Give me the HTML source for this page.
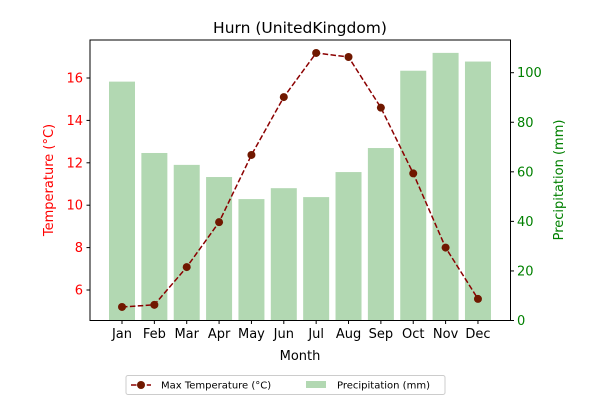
<!DOCTYPE html>
<html><head><meta charset="utf-8"><style>
body{margin:0;background:#fff}
svg{font-family:"DejaVu Sans","Liberation Sans",sans-serif}
</style></head><body>
<svg id="chart" width="600" height="400" viewBox="0 0 600 400" xmlns="http://www.w3.org/2000/svg">
<rect width="600" height="400" fill="#fff"/>
<text x="300" y="33" text-anchor="middle" font-size="15.5">Hurn (UnitedKingdom)</text>
<g id="bars"></g>
<g id="line"></g>
<rect x="90" y="40" width="420.5" height="280.5" fill="none" stroke="#000" stroke-width="1"/>
<g id="xaxis"></g>
<g id="yleft"></g>
<g id="yright"></g>
<text x="300" y="360" text-anchor="middle" font-size="13">Month</text>
<text transform="translate(53,180) rotate(-90)" text-anchor="middle" font-size="13" fill="red">Temperature (°C)</text>
<text transform="translate(563,180) rotate(-90)" text-anchor="middle" font-size="13" fill="green">Precipitation (mm)</text>
<g>
<rect x="126" y="375.5" width="319" height="19" rx="2" fill="#fff" stroke="#ccc"/>
<line x1="131" y1="385" x2="151" y2="385" stroke="#8b0000" stroke-width="1.5" stroke-dasharray="5.5,2.4"/>
<circle cx="141" cy="385" r="4" fill="#701800"/>
<text x="161" y="388.5" font-size="10">Max Temperature (°C)</text>
<rect x="306" y="381" width="20" height="7" fill="#b2d8b2"/>
<text x="337" y="388.5" font-size="10">Precipitation (mm)</text>
</g>
</svg>
<script>
const months=["Jan","Feb","Mar","Apr","May","Jun","Jul","Aug","Sep","Oct","Nov","Dec"];
const maxTemp=[5.2,5.3,7.08,9.2,12.37,15.1,17.18,16.99,14.6,11.5,8.0,5.58];
const precip=[96.4,67.6,62.8,57.9,49,53.4,49.8,59.9,69.6,100.8,108,104.5];
const leftTicks=[6,8,10,12,14,16];
const rightTicks=[0,20,40,60,80,100];
const NS="http://www.w3.org/2000/svg";
const x=i=>122+i*32.36;
const yT=v=>290-(v-6)*21.2;
const yP=v=>320.5-v*2.478;
function mk(t,a,p){const e=document.createElementNS(NS,t);for(const k in a)e.setAttribute(k,a[k]);p.appendChild(e);return e;}
const bars=document.getElementById('bars');
precip.forEach((v,i)=>{const r=mk('rect',{x:x(i)-13,y:yP(v),width:26,height:yP(0)-yP(v),fill:'#b2d8b2'},bars);

});
const lg=document.getElementById('line');
const pl=mk('polyline',{points:maxTemp.map((v,i)=>x(i)+','+yT(v)).join(' '),fill:'none',stroke:'#8b0000','stroke-width':1.5,'stroke-dasharray':'5.5,2.4'},lg);


maxTemp.forEach((v,i)=>{const c=mk('circle',{cx:x(i),cy:yT(v),r:4,fill:'#701800'},lg);

});
const xa=document.getElementById('xaxis');
months.forEach((m,i)=>{mk('line',{x1:x(i),y1:320.5,x2:x(i),y2:324,stroke:'#000'},xa);
const t=mk('text',{x:x(i),y:338,'text-anchor':'middle','font-size':13},xa);t.textContent=m;

});
const yl=document.getElementById('yleft');
leftTicks.forEach(v=>{mk('line',{x1:86.5,y1:yT(v),x2:90,y2:yT(v),stroke:'#000'},yl);
const t=mk('text',{x:83,y:yT(v)+4.5,'text-anchor':'end','font-size':13,fill:'red'},yl);t.textContent=v;

});
const yr=document.getElementById('yright');
rightTicks.forEach(v=>{mk('line',{x1:510.5,y1:yP(v),x2:514,y2:yP(v),stroke:'#000'},yr);
const t=mk('text',{x:517,y:yP(v)+4.5,'font-size':13,fill:'green'},yr);t.textContent=v;

});
</script>
</body></html>
